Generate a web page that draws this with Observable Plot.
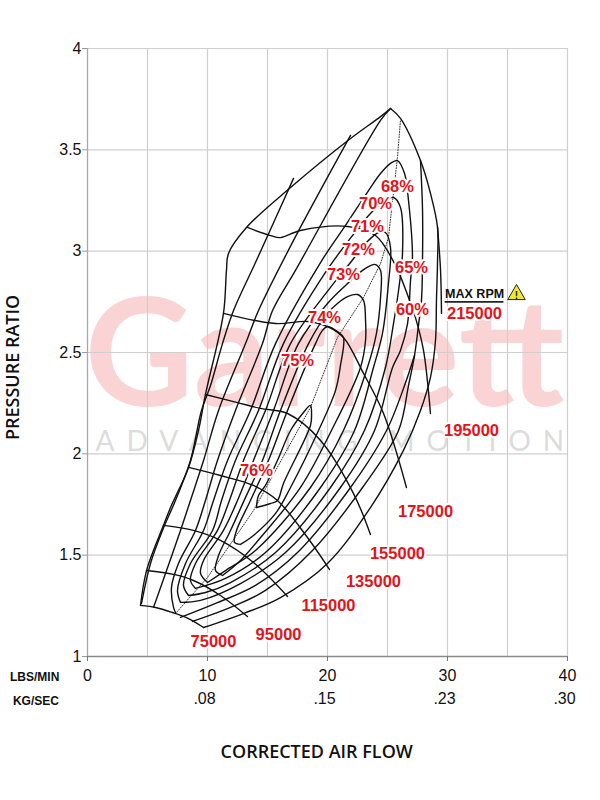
<!DOCTYPE html>
<html><head><meta charset="utf-8">
<style>body{margin:0;background:#fff}svg{display:block}</style>
<script src="https://cdn.jsdelivr.net/npm/d3@7"></script>
<script src="https://cdn.jsdelivr.net/npm/@observablehq/plot@0.6"></script>
</head><body><div id="chart"></div>
<script>
const xTicks = [0,10,20,30,40];
const kgTicks = {10:".08",20:".15",30:".23",40:".30"};
const yTicks = [1,1.5,2,2.5,3,3.5,4];
const surge = [[4.42,1.252],[4.92,1.424],[6.33,1.647],[6.92,1.735],[8.42,1.933],[9.25,2.115],[9.83,2.293],[11.33,2.693],[11.58,2.905],[11.75,2.989],[13.25,3.117],[16.92,3.314],[21.92,3.556],[24.42,3.664],[25.25,3.704]];
const outer = [[25.25,3.704],[26.08,3.655],[27.75,3.447],[28.58,3.285],[29.17,3.117],[29.17,2.954],[29.08,2.757],[29,2.559],[28.58,2.377],[27.75,2.214],[26.33,2.017],[23.58,1.735],[20,1.459],[16.08,1.291],[13,1.212],[9.67,1.143]];
const open2 = [[27.75,3.447],[27.92,3.201],[27.92,2.969],[27.83,2.757],[27.58,2.633],[27.25,2.485],[26.75,2.337],[25.92,2.115],[22.92,1.834],[18.75,1.523],[14.83,1.326],[11.92,1.242],[8.75,1.173]];
const open3 = [[27.25,2.485],[26.42,2.337],[24.92,2.115],[21.92,1.834],[17.5,1.513],[14,1.351],[10.67,1.262],[7.75,1.193]];
const left1 = [[17.17,3.359],[14,2.944],[12.17,2.707],[11.25,2.544],[10.25,2.337],[9.5,2.214],[8.58,1.967],[7.33,1.77],[6.25,1.622],[5.25,1.459],[4.5,1.262]];
const left2 = [[21.92,3.571],[17.17,3.053],[14.25,2.707],[13.17,2.544],[10.92,2.214],[9.67,1.967],[8.58,1.77],[7.75,1.622],[6.5,1.41],[5.5,1.242]];
const left3 = [[25.25,3.704],[24.42,3.645],[17.33,2.905],[15.42,2.707],[14.58,2.544],[12.33,2.214],[10.83,1.967],[9.83,1.77],[9,1.622],[7.58,1.459],[7,1.341],[7.17,1.242],[7.33,1.217]];
const eff1 = [[7.75,1.267],[7.5,1.326],[8.17,1.459],[9.67,1.622],[10.5,1.77],[11.67,1.967],[13.58,2.214],[15.67,2.544],[19.42,2.944],[21.5,3.127],[23.42,3.299],[24.42,3.383],[25.25,3.433],[25.83,3.447],[26.42,3.383],[26.75,3.25],[27.08,2.969],[26.92,2.855],[26.67,2.643],[26.08,2.51],[25.42,2.426],[23.92,2.115],[21.08,1.834],[16.5,1.513],[12.75,1.36],[9.42,1.277],[7.75,1.267]];
const eff2 = [[8.42,1.301],[8,1.351],[8.58,1.459],[10.42,1.622],[11.17,1.77],[12.33,1.967],[14.25,2.214],[16.33,2.544],[19.83,2.895],[22.08,3.077],[23.58,3.186],[24.83,3.25],[25.5,3.265],[26.08,3.216],[26.25,2.989],[25.92,2.806],[25.5,2.643],[24.83,2.426],[23.08,2.115],[20.25,1.834],[15.67,1.513],[11.92,1.365],[9.83,1.316],[8.42,1.301]];
const eff3 = [[9,1.336],[8.58,1.375],[9,1.459],[10.83,1.622],[11.83,1.77],[13,1.967],[14.83,2.214],[16.92,2.544],[20.25,2.821],[21.92,2.944],[23.17,3.038],[24.25,3.092],[24.83,3.092],[25.25,3.018],[25.08,2.841],[24.58,2.594],[23.83,2.426],[22.25,2.115],[19.42,1.834],[14.83,1.513],[11.5,1.385],[9,1.336]];
const eff4 = [[10,1.365],[9.42,1.41],[9.67,1.474],[11.33,1.622],[12.5,1.77],[13.83,1.967],[15.5,2.214],[17.58,2.544],[20,2.742],[21.5,2.831],[22.92,2.905],[23.58,2.929],[24,2.934],[24.42,2.905],[24.42,2.771],[24.08,2.594],[23.33,2.426],[21.33,2.115],[18.58,1.834],[14,1.523],[11.5,1.424],[10,1.365]];
const eff5 = [[11.25,1.4],[10.67,1.424],[10.92,1.498],[11.92,1.622],[13.17,1.785],[14.58,1.967],[16.08,2.214],[18.42,2.544],[20,2.693],[20.83,2.742],[21.67,2.776],[22.5,2.786],[23,2.757],[23.17,2.658],[23.17,2.559],[22.75,2.426],[20.33,2.115],[17.75,1.834],[14.42,1.587],[12.75,1.474],[11.25,1.4]];
const eff6 = [[12.75,1.553],[12.25,1.563],[12.42,1.622],[13.58,1.77],[15.08,1.967],[16.67,2.214],[19,2.544],[19.58,2.609],[20,2.628],[20.92,2.599],[21.33,2.574],[21.08,2.436],[20.67,2.313],[19.25,2.115],[16.92,1.834],[15.67,1.706],[13.83,1.597],[12.75,1.553]];
const eff7 = [[14.08,1.735],[15.25,1.755],[15.83,1.77],[16.33,1.854],[18.58,2.14],[18.67,2.189],[18.58,2.239],[18,2.204],[16.92,2.115],[15.83,1.967],[14.83,1.844],[14.25,1.794],[14.08,1.735]];
const speed75 = [[4.42,1.252],[5.67,1.242],[7.08,1.217],[8.42,1.187],[9.67,1.143]];
const speed95 = [[4.92,1.424],[7.17,1.405],[8.83,1.375],[11.08,1.301],[13.33,1.197]];
const speed115 = [[6.33,1.647],[8.83,1.622],[11.08,1.573],[13.83,1.464],[16.67,1.296]];
const speed135 = [[8.42,1.933],[11.08,1.893],[13.83,1.844],[15.83,1.77],[18.33,1.587],[20.17,1.429]];
const speed155 = [[9.83,2.293],[12.5,2.253],[14.42,2.224],[16.67,2.199],[19.42,2.066],[22.17,1.804],[23.58,1.602]];
const speed175 = [[11.33,2.693],[15.67,2.643],[18.33,2.653],[20,2.628],[21.33,2.574],[23,2.397],[24.67,2.199],[26.58,1.834]];
const speed195 = [[13.33,3.117],[15.25,3.077],[16.08,3.067],[17.75,3.102],[21.67,3.122],[24,3.077],[25.67,2.929],[26.75,2.771],[27.33,2.672],[28,2.51],[28.58,2.199]];
const speed215 = [[29.17,3.117],[29.42,2.905],[29.5,2.693]];
const peak = [[7.33,1.212],[10,1.39],[13.83,1.72],[18.58,2.229],[20.83,2.574],[23,2.771],[24.42,2.939],[25.08,3.068],[25.83,3.462],[26.08,3.645]];
const effLabels = [["68%",25.83,3.319],["70%",24,3.235],["71%",23.33,3.122],["72%",22.58,3.008],["73%",21.33,2.885],["65%",27,2.919],["60%",27.08,2.712],["74%",19.75,2.673],["75%",17.5,2.461],["76%",14.08,1.918]];
const rpmLabels = [["75000",10.5,1.074],["95000",15.92,1.109],["115000",20.08,1.252],["135000",23.83,1.37],["155000",25.83,1.509],["175000",28.17,1.716],["195000",32,2.115],["215000",32.25,2.693]];

const curves = [surge,outer,open2,open3,left1,left2,left3,eff1,eff2,eff3,eff4,eff5,eff6,eff7,speed75,speed95,speed115,speed135,speed155,speed175,speed195,speed215];
const X = d=>d[0], Y = d=>d[1];
const RED = "#e2141c";
const redLabels = arr => Plot.text(arr,{x:d=>d[1],y:d=>d[2],text:d=>d[0],fill:RED,stroke:"white",strokeWidth:4,fontWeight:"bold",fontSize:16.5,fontFamily:"Liberation Sans"});
const spaced = px => (i,s,v,d,c,n) => { const g = n(i,s,v,d,c); d3.select(g).selectAll("text").style("letter-spacing",px); return g; };

const chart = Plot.plot({
  width:600,height:800,marginTop:48,marginBottom:144,marginLeft:87,marginRight:33,
  x:{domain:[0,40]},y:{domain:[1,4]},
  style:{fontFamily:"Liberation Sans",background:"#fff",overflow:"visible"},
  marks:[
    Plot.text(["Garrett"],{x:19.75,y:2.475,text:d=>d,fill:"#fad4d4",fontSize:150,fontWeight:"bold",fontFamily:"Lato"}),
    Plot.text(["ADVANCING MOTION"],{x:20.7,y:2.056,text:d=>d,fill:"#dcdcdc",fontSize:28,fontFamily:"Lato",render:spaced("12px")}),
    Plot.gridX(d3.range(5,40,5),{stroke:"#cfcfcf",strokeOpacity:1,strokeWidth:1.2}),
    Plot.gridY(yTicks,{stroke:"#cfcfcf",strokeOpacity:1,strokeWidth:1.2}),
    Plot.ruleX([0],{stroke:"#a8a8a8",strokeWidth:1.3}),
    Plot.ruleX([40],{stroke:"#cfcfcf",strokeWidth:1.2}),
    Plot.ruleY([1],{stroke:"#8a8a8a",strokeWidth:1.3}),
    Plot.axisY(yTicks,{tickSize:5,tickPadding:1,fontSize:16,stroke:"#999",fill:"#111",label:null,tickFormat:d=>String(d)}),
    Plot.axisX(xTicks,{tickSize:5,tickPadding:8,fontSize:16,stroke:"#777",fill:"#111",label:null}),
    Plot.axisX([10,20,30,40],{tickSize:0,tickPadding:36,fontSize:16,fill:"#111",dx:-3,label:null,tickFormat:d=>kgTicks[d]}),
    Plot.line(peak,{x:X,y:Y,stroke:"#333",strokeWidth:1,strokeDasharray:"1,1.6"}),
    ...curves.map(c=>Plot.line(c,{x:X,y:Y,stroke:"#111",strokeWidth:1.4,curve:"catmull-rom"})),
    redLabels(effLabels),
    redLabels(rpmLabels),
    Plot.text(["MAX RPM"],{x:29.8,y:2.79,text:d=>d,textAnchor:"start",fill:"#111",fontWeight:"bold",fontSize:12.5}),
    Plot.ruleY([2.75],{x1:29.8,x2:34.7,stroke:"#222",strokeWidth:1.8}),
    Plot.dot([[35.75,2.786]],{x:X,y:Y,symbol:"triangle",r:6.5,fill:"#f2e92a",stroke:"#222",strokeWidth:1}),
    Plot.text(["!"],{x:35.75,y:2.78,text:d=>d,fill:"#111",fontWeight:"bold",fontSize:10}),
    Plot.text(["PRESSURE RATIO"],{x:-6.2,y:2.426,text:d=>d,rotate:-90,fontSize:18,fontWeight:600,fontFamily:"Open Sans",fill:"#111"}),
    Plot.text(["CORRECTED AIR FLOW"],{x:19.1,y:0.529,text:d=>d,fontSize:18,fontWeight:600,fontFamily:"Open Sans",fill:"#111"}),
    Plot.text(["LBS/MIN"],{x:-4.4,y:0.9,text:d=>d,fontSize:12,fontWeight:"bold",fill:"#111"}),
    Plot.text(["KG/SEC"],{x:-4.3,y:0.78,text:d=>d,fontSize:12,fontWeight:"bold",fill:"#111"})
  ]
});
document.getElementById("chart").appendChild(chart);
</script></body></html>
